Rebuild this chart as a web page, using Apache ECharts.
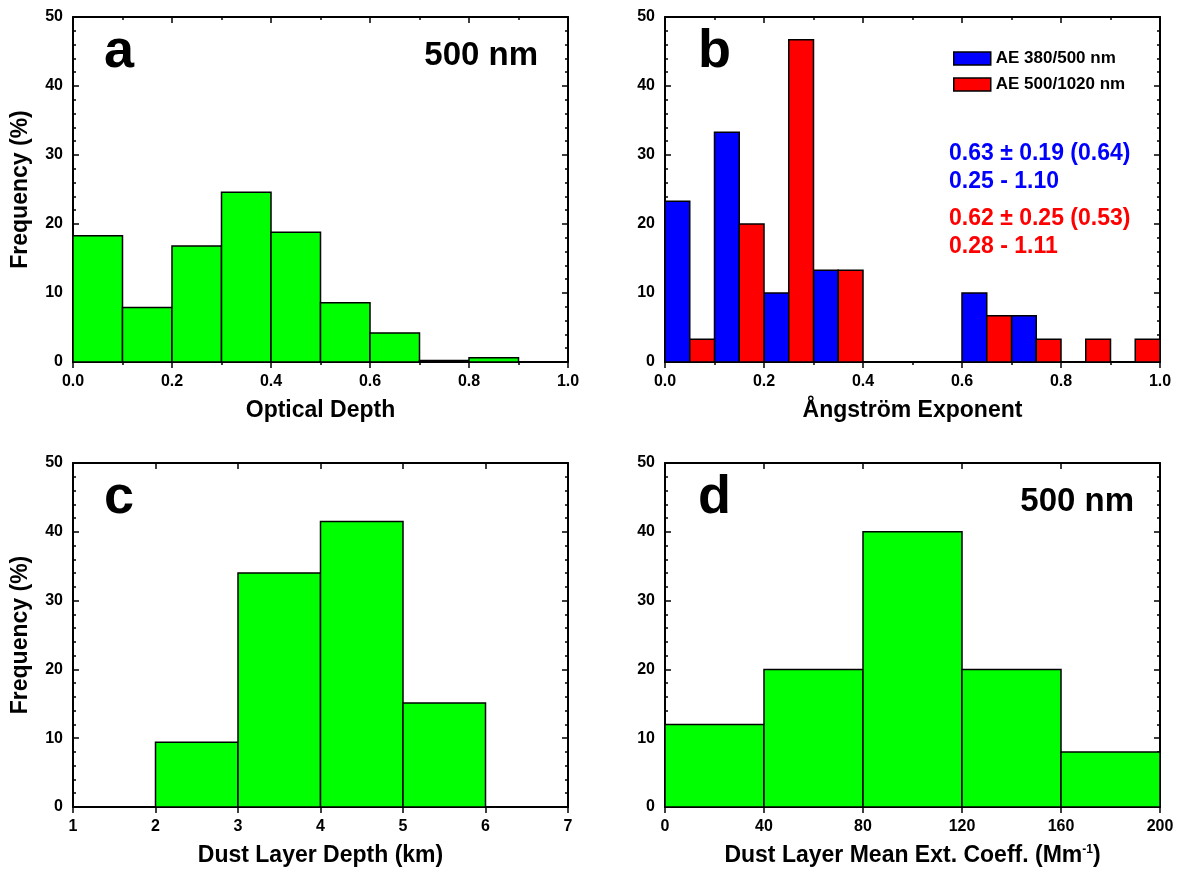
<!DOCTYPE html>
<html>
<head>
<meta charset="utf-8">
<script src="https://cdn.jsdelivr.net/npm/echarts@6/dist/echarts.min.js"></script>
<style>
  html, body { margin: 0; padding: 0; background: #fff; }
  #chart { width: 1184px; height: 872px; }
</style>
</head>
<body>
<div id="chart"></div>
<script>
// ---- data ----

// a: optical depth (500 nm), bins of 0.1, lower edges
let odEdges = [0, 0.1, 0.2, 0.3, 0.4, 0.5, 0.6, 0.7, 0.8];
let odFreq = [18.3, 7.9, 16.8, 24.6, 18.8, 8.6, 4.2, 0.2, 0.6];
let odBin = 0.1;

// b: Angstrom exponent, bins of 0.05
let ae1Edges = [0, 0.1, 0.2, 0.3, 0.6, 0.7];          // AE 380/500
let ae1Freq = [23.3, 33.3, 10, 13.3, 10, 6.7];
let ae2Edges = [0.05, 0.15, 0.25, 0.35, 0.65, 0.75, 0.85, 0.95]; // AE 500/1020
let ae2Freq = [3.3, 20, 46.7, 13.3, 6.7, 3.3, 3.3, 3.3];
let aeBin = 0.05;
let aeNames = ["AE 380/500 nm", "AE 500/1020 nm"];

// c: dust layer depth (km)
let depthEdges = [2, 3, 4, 5];
let depthFreq = [9.4, 34, 41.5, 15.1];
let depthBin = 1;

// d: dust layer mean extinction coefficient (Mm-1)
let extEdges = [0, 40, 80, 120, 160];
let extFreq = [12, 20, 40, 20, 8];
let extBin = 40;

// stats text in panel b
let statsBlue = ["0.63 \u00b1 0.19 (0.64)", "0.25 - 1.10"];
let statsRed = ["0.62 \u00b1 0.25 (0.53)", "0.28 - 1.11"];

// ---------------------------------

const FONT = '"Liberation Sans", Arial, Helvetica, sans-serif';
const GREEN = "#00ff00", BLUE = "#0000ff", RED = "#ff0000";

const toBins = (edges, freq, w) => edges.map((lo, i) => [lo, lo + w, freq[i]]);

let grids = [
  { left: 73, top: 17, width: 495, height: 345 },
  { left: 665, top: 17, width: 495, height: 345 },
  { left: 73, top: 463, width: 495, height: 344 },
  { left: 665, top: 463, width: 495, height: 344 },
];

let tickLine = { color: "#000", width: 1.5 };
let axisLineStyle = { show: true, onZero: false, lineStyle: { color: "#000", width: 2 } };

function xAxes(gi, min, max, interval, minorSplit, fmt, name) {
  let minor = { show: minorSplit > 1, splitNumber: minorSplit || 2, length: 3, lineStyle: tickLine };
  return [
    {
      gridIndex: gi, type: "value", position: "bottom", min, max, interval,
      name, nameLocation: "middle", nameGap: 37,
      nameTextStyle: {
        fontFamily: FONT, fontWeight: "bold", fontSize: 23, color: "#000",
        rich: {
          t: { fontFamily: FONT, fontWeight: "bold", fontSize: 23, color: "#000" },
          s: { fontFamily: FONT, fontWeight: "bold", fontSize: 12, color: "#000", verticalAlign: "top", padding: [0, 0, 10, 0] },
        },
      },
      axisLine: axisLineStyle,
      axisTick: { show: true, inside: false, length: 6, lineStyle: tickLine },
      minorTick: minor,
      axisLabel: {
        margin: 12, formatter: fmt, fontFamily: FONT, fontWeight: "bold", fontSize: 16, color: "#000",
        showMinLabel: true, showMaxLabel: true, hideOverlap: false,
      },
      splitLine: { show: false },
    },
    {
      gridIndex: gi, type: "value", position: "top", min, max, interval,
      axisLine: axisLineStyle,
      axisTick: { show: true, inside: true, length: 6, lineStyle: tickLine },
      minorTick: minor,
      axisLabel: { show: false },
      splitLine: { show: false },
    },
  ];
}

function yAxes(gi, withName) {
  let base = {
    gridIndex: gi, type: "value", min: 0, max: 50, interval: 10,
    axisLine: axisLineStyle,
    axisTick: { show: true, inside: true, length: 6, lineStyle: tickLine },
    minorTick: { show: true, splitNumber: 5, length: 3, lineStyle: tickLine },
    splitLine: { show: false },
  };
  return [
    Object.assign({}, base, {
      position: "left",
      name: withName ? "Frequency (%)" : "",
      nameLocation: "middle", nameGap: 41, nameRotate: 90,
      nameTextStyle: { fontFamily: FONT, fontWeight: "bold", fontSize: 23, color: "#000" },
      axisLabel: { margin: 10, fontFamily: FONT, fontWeight: "bold", fontSize: 16, color: "#000", showMinLabel: true, showMaxLabel: true },
    }),
    Object.assign({}, base, { position: "right", axisLabel: { show: false } }),
  ];
}

function histItem(params, api) {
  let top = api.coord([api.value(0), api.value(2)]);
  let bot = api.coord([api.value(1), 0]);
  return {
    type: "rect",
    shape: { x: top[0], y: top[1], width: bot[0] - top[0], height: bot[1] - top[1] },
    style: { fill: api.visual("color"), stroke: "#000", lineWidth: 1.5 },
  };
}

function hist(gi, data, color, name) {
  return {
    type: "custom", name, xAxisIndex: 2 * gi, yAxisIndex: 2 * gi,
    renderItem: histItem, data, encode: { x: [0, 1], y: 2 },
    itemStyle: { color, borderColor: "#000", borderWidth: 1.5 },
    z: 1,
  };
}

const fmt1 = (v) => v.toFixed(1);
const fmt0 = (v) => String(Math.round(v));

let xAxis = [
  ...xAxes(0, 0, 1, 0.2, 2, fmt1, "Optical Depth"),
  ...xAxes(1, 0, 1, 0.2, 2, fmt1, "\u00c5ngstr\u00f6m Exponent"),
  ...xAxes(2, 1, 7, 1, 0, fmt0, "Dust Layer Depth (km)"),
  ...xAxes(3, 0, 200, 40, 0, fmt0, "{t|Dust Layer Mean Ext. Coeff. (Mm}{s|-1}{t|)}"),
];
let yAxis = [...yAxes(0, true), ...yAxes(1, false), ...yAxes(2, true), ...yAxes(3, false)];

let series = [
  hist(0, toBins(odEdges, odFreq, odBin), GREEN, "od"),
  hist(1, toBins(ae1Edges, ae1Freq, aeBin), BLUE, aeNames[0]),
  hist(1, toBins(ae2Edges, ae2Freq, aeBin), RED, aeNames[1]),
  hist(2, toBins(depthEdges, depthFreq, depthBin), GREEN, "depth"),
  hist(3, toBins(extEdges, extFreq, extBin), GREEN, "ext"),
];

function label(x, y, text, size, color, align) {
  return {
    type: "text", x, y, silent: true,
    style: { text, fill: color || "#000", font: "bold " + size + "px " + FONT, align: align || "left", verticalAlign: "middle" },
  };
}

let graphic = [
  label(104, 52, "a", 54),
  label(698, 52, "b", 54),
  label(104, 498, "c", 54),
  label(698, 498, "d", 54),
  label(538, 56, "500 nm", 33, "#000", "right"),
  label(1134, 502, "500 nm", 33, "#000", "right"),
  label(949, 154, statsBlue[0], 23, BLUE),
  label(949, 182, statsBlue[1], 23, BLUE),
  label(949, 219, statsRed[0], 23, RED),
  label(949, 247, statsRed[1], 23, RED),
];

const myChart = echarts.init(document.getElementById("chart"), null, { width: 1184, height: 872 });

let option = {
  animation: false,
  backgroundColor: "#fff",
  grid: grids,
  xAxis,
  yAxis,
  legend: {
    data: aeNames,
    orient: "vertical",
    left: 948, top: 45,
    itemWidth: 37, itemHeight: 13, itemGap: 9,
    icon: "rect",
    itemStyle: { borderColor: "#000", borderWidth: 1.5 },
    textStyle: { fontFamily: FONT, fontWeight: "bold", fontSize: 17, color: "#000" },
    selectedMode: false,
  },
  series,
  graphic,
};

option && myChart.setOption(option);
</script>
</body>
</html>
